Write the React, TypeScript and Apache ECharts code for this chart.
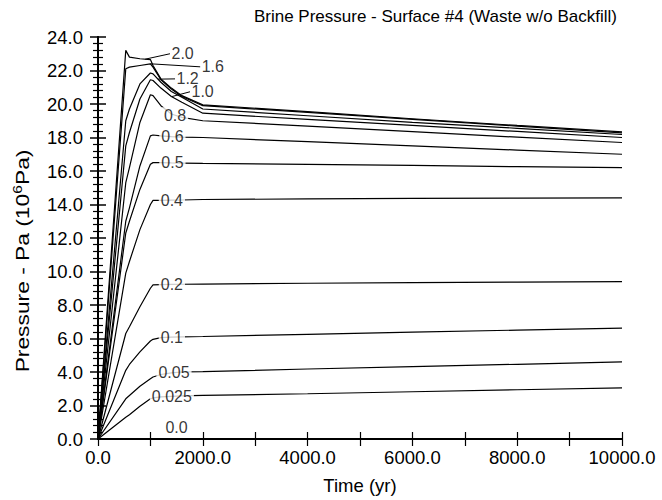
import React, { useEffect, useRef } from "react";
import * as echarts from "echarts";

const FONT = "'Liberation Sans', Arial, Helvetica, sans-serif";

// Time samples (yr)
const TIMES = [0, 530, 600, 800, 1000, 1050, 1200, 1400, 1600, 2000, 4000, 6000, 8000, 10000];

// Brine pressure (10^6 Pa) for each gas-generation rate curve
const P_2_0 = [0, 23.2, 22.8, 22.7, 22.65, 22.3, 21.5, 20.95, 20.5, 19.95, 19.55, 19.12, 18.72, 18.33];
const P_1_6 = [0, 22.1, 22.2, 22.3, 22.4, 22.2, 21.45, 20.9, 20.45, 19.9, 19.5, 19.08, 18.68, 18.28];
const P_1_2 = [0, 19.0, 19.7, 21.2, 21.85, 21.8, 21.3, 20.75, 20.4, 19.7, 19.3, 18.9, 18.55, 18.18];
const P_1_0 = [0, 17.5, 18.3, 20.3, 21.45, 21.4, 20.95, 20.45, 20.1, 19.45, 19.08, 18.72, 18.36, 18.0];
const P_0_8 = [0, 15.3, 16.2, 18.9, 20.55, 20.5, 19.9, 19.4, 19.2, 19.0, 18.68, 18.35, 18.02, 17.7];
const P_0_6 = [0, 13.0, 13.8, 16.3, 18.1, 18.15, 18.1, 18.05, 18.02, 18.0, 17.75, 17.5, 17.25, 17.0];
const P_0_5 = [0, 12.3, 13.0, 14.9, 16.4, 16.5, 16.5, 16.48, 16.47, 16.45, 16.4, 16.33, 16.26, 16.2];
const P_0_4 = [0, 9.9, 10.6, 12.5, 14.0, 14.25, 14.25, 14.26, 14.27, 14.3, 14.33, 14.36, 14.38, 14.4];
const P_0_2 = [0, 6.3, 6.7, 7.9, 9.0, 9.2, 9.22, 9.23, 9.24, 9.25, 9.3, 9.33, 9.37, 9.4];
const P_0_1 = [0, 4.1, 4.45, 5.2, 5.85, 5.95, 6.05, 6.08, 6.1, 6.12, 6.25, 6.38, 6.5, 6.62];
const P_0_05 = [0, 2.4, 2.6, 3.15, 3.6, 3.7, 3.85, 3.95, 4.0, 4.02, 4.18, 4.32, 4.46, 4.6];
const P_0_025 = [0, 1.3, 1.45, 1.95, 2.4, 2.45, 2.52, 2.55, 2.57, 2.6, 2.7, 2.82, 2.94, 3.05];
const P_0_0 = [0, 0, 0, 0, 0, 0, 0, 0, 0, 0, 0, 0, 0, 0];

const RATES = ["2.0", "1.6", "1.2", "1.0", "0.8", "0.6", "0.5", "0.4", "0.2", "0.1", "0.05", "0.025", "0.0"];
const CURVES = [P_2_0, P_1_6, P_1_2, P_1_0, P_0_8, P_0_6, P_0_5, P_0_4, P_0_2, P_0_1, P_0_05, P_0_025, P_0_0];

// Labels sitting on their curve: [rate, time]
const INLINE_LABELS: [string, number][] = [
  ["0.8", 1470], ["0.6", 1420], ["0.5", 1420], ["0.4", 1410], ["0.2", 1410],
  ["0.1", 1410], ["0.05", 1450], ["0.025", 1410], ["0.0", 1500],
];
// Labels with leader lines: [rate, time on curve, label time, label pressure]
const LEADER_LABELS: [string, number, number, number][] = [
  ["2.0", 900, 1374, 23.0],
  ["1.6", 1000, 1950, 22.22],
  ["1.2", 1145, 1470, 21.5],
  ["1.0", 1406, 1756, 20.73],
];

const X_TICKS = { min: 0, max: 10000, interval: 1000, labelEvery: 2000 };
const Y_TICKS = { min: 0, max: 24, interval: 2 };

function interp(vals: number[], t: number) {
  for (let i = 0; i < TIMES.length - 1; i++) {
    if (t >= TIMES[i] && t <= TIMES[i + 1]) {
      const f = (t - TIMES[i]) / (TIMES[i + 1] - TIMES[i]);
      return vals[i] + f * (vals[i + 1] - vals[i]);
    }
  }
  return vals[vals.length - 1];
}

function curveOf(rate: string) {
  return CURVES[RATES.indexOf(rate)];
}

export default function App() {
  const ref = useRef<HTMLDivElement>(null);
  useEffect(() => {
    if (!ref.current) return;
    const chart = echarts.init(ref.current, null, { renderer: "svg" });

    const lineSeries = RATES.map((r, i) => ({
      type: "line",
      name: r,
      data: TIMES.map((t, j) => [t, CURVES[i][j]]),
      showSymbol: false,
      symbol: "none",
      lineStyle: { color: "#000", width: 1.2 },
      z: 2,
      silent: true,
    }));

    const leaderSeries = LEADER_LABELS.map(([r, tc, tl, pl]) => ({
      type: "line",
      data: [
        [tc, interp(curveOf(r), tc)],
        [tl, pl],
      ],
      showSymbol: false,
      symbol: "none",
      lineStyle: { color: "#000", width: 1 },
      z: 2,
      silent: true,
    }));

    const inlineData = INLINE_LABELS.map(([r, t]) => {
      const item: any = { name: r, value: [t, interp(curveOf(r), t)] };
      if (r === "0.0") {
        item.label = { position: "top", distance: 3, backgroundColor: "transparent" };
      }
      return item;
    });

    const leaderData = LEADER_LABELS.map(([r, , tl, pl]) => ({ name: r, value: [tl, pl] }));

    const option: any = {
      animation: false,
      backgroundColor: "#fff",
      textStyle: { fontFamily: FONT, color: "#000" },
      title: {
        text: "Brine Pressure - Surface #4 (Waste w/o Backfill)",
        right: 40,
        top: 3,
        textStyle: { fontSize: 17, fontWeight: "normal", color: "#000", fontFamily: FONT },
      },
      grid: { left: 98, right: 40, top: 37, bottom: 55, containLabel: false },
      xAxis: [
        {
          type: "value",
          min: X_TICKS.min,
          max: X_TICKS.max,
          interval: X_TICKS.interval,
          name: "Time (yr)",
          nameLocation: "middle",
          nameGap: 37,
          nameTextStyle: { fontSize: 18.5, color: "#000", fontFamily: FONT },
          axisLine: { show: true, lineStyle: { color: "#000", width: 2 } },
          axisTick: { show: true, inside: true, length: 7, lineStyle: { color: "#000", width: 1.2 } },
          axisLabel: {
            show: true,
            margin: 9,
            fontSize: 18.5,
            color: "#000",
            fontFamily: FONT,
            formatter: (v: number) => (v % X_TICKS.labelEvery === 0 ? v.toFixed(1) : ""),
          },
          splitLine: { show: false },
        },
        {
          type: "value",
          position: "top",
          min: X_TICKS.min,
          max: X_TICKS.max,
          interval: X_TICKS.interval,
          axisLine: { show: true, lineStyle: { color: "#000", width: 2 } },
          axisTick: { show: true, inside: true, length: 7, lineStyle: { color: "#000", width: 1.2 } },
          axisLabel: { show: false },
          splitLine: { show: false },
        },
      ],
      yAxis: [
        {
          type: "value",
          min: Y_TICKS.min,
          max: Y_TICKS.max,
          interval: Y_TICKS.interval,
          axisLine: { show: true, lineStyle: { color: "#000", width: 2 } },
          axisTick: { show: true, inside: true, length: 8, lineStyle: { color: "#000", width: 1.5 } },
          minorTick: { show: true, splitNumber: 5, length: 5, lineStyle: { color: "#000", width: 1.2 } },
          axisLabel: {
            show: true,
            margin: 15,
            fontSize: 18.5,
            color: "#000",
            fontFamily: FONT,
            formatter: (v: number) => v.toFixed(1),
          },
          splitLine: { show: false },
          minorSplitLine: { show: false },
        },
        {
          type: "value",
          position: "right",
          min: Y_TICKS.min,
          max: Y_TICKS.max,
          interval: Y_TICKS.interval,
          axisLine: { show: true, lineStyle: { color: "#000", width: 2 } },
          axisTick: { show: true, inside: true, length: 8, lineStyle: { color: "#000", width: 1.5 } },
          minorTick: { show: true, splitNumber: 5, length: 5, lineStyle: { color: "#000", width: 1.2 } },
          axisLabel: { show: false },
          splitLine: { show: false },
          minorSplitLine: { show: false },
        },
      ],
      graphic: [
        {
          type: "text",
          x: 22,
          y: 261,
          rotation: Math.PI / 2,
          scaleX: 1.2,
          style: {
            text: "{a|Pressure - Pa (10}{s|6}{a|Pa)}",
            align: "center",
            verticalAlign: "middle",
            fill: "#000",
            rich: {
              a: { fontSize: 19, fontFamily: FONT, fill: "#000", lineHeight: 22 },
              s: { fontSize: 13, fontFamily: FONT, fill: "#000", verticalAlign: "top", lineHeight: 13 },
            },
          },
        },
      ],
      series: [
        ...lineSeries,
        ...leaderSeries,
        {
          type: "scatter",
          data: inlineData,
          symbolSize: 1,
          itemStyle: { color: "rgba(0,0,0,0)" },
          z: 5,
          silent: true,
          label: {
            show: true,
            position: "inside",
            formatter: "{b}",
            fontSize: 16,
            color: "#000",
            fontFamily: FONT,
            backgroundColor: "#fff",
            padding: [0, 2],
          },
        },
        {
          type: "scatter",
          data: leaderData,
          symbolSize: 1,
          itemStyle: { color: "rgba(0,0,0,0)" },
          z: 5,
          silent: true,
          label: {
            show: true,
            position: "right",
            distance: 1,
            formatter: "{b}",
            fontSize: 16,
            color: "#000",
            fontFamily: FONT,
          },
        },
      ],
    };
    chart.setOption(option);
    return () => chart.dispose();
  }, []);

  return (
    <div
      ref={ref}
      style={{ position: "absolute", left: 0, top: 0, width: 662, height: 500, background: "#fff" }}
    />
  );
}
